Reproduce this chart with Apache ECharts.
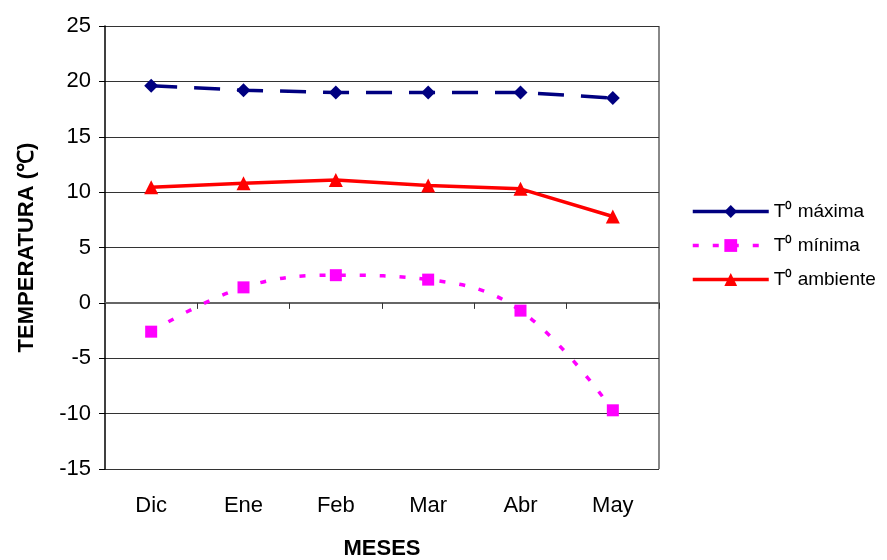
<!DOCTYPE html>
<html><head><meta charset="utf-8">
<script src="https://cdn.jsdelivr.net/npm/echarts@6/dist/echarts.min.js"></script>
<style>html,body{margin:0;padding:0;background:#fff}#c{width:887px;height:560px}</style>
</head><body><div id="c"></div>
<script>
const categories = ['Dic','Ene','Feb','Mar','Abr','May'];
const tMax = [19.6, 19.2, 19.0, 19.0, 19.0, 18.5];
const tMin = [-2.6, 1.4, 2.5, 2.1, -0.7, -9.7];
const tAmb = [10.45, 10.8, 11.1, 10.6, 10.3, 7.8];
const yTicks = {min: -15, max: 25, interval: 5};

const F = 'Liberation Sans, Arial, sans-serif';
const chart = echarts.init(document.getElementById('c'));
chart.setOption({
  animation: false,
  backgroundColor: '#fff',
  grid: {left: 105, right: 228, top: 26, bottom: 91, show: false, containLabel: false, outerBoundsMode: 'none'},
  legend: {
    orient: 'vertical', left: 686, top: 197, itemGap: 15, itemWidth: 76, itemHeight: 16,
    lineStyle: {width: 3.5},
    textStyle: {fontFamily: F, fontSize: 19, color: '#000'},
    data: [{name: 'T⁰ máxima', lineStyle: {type: 'solid'}}, {name: 'T⁰ mínima'}, {name: 'T⁰ ambiente'}]
  },
  xAxis: [{
    type: 'category', data: categories, boundaryGap: true,
    axisLine: {onZero: true, lineStyle: {color: '#666', width: 2}},
    axisTick: {show: true, length: 6, lineStyle: {color: '#333'}},
    axisLabel: {show: false}, splitLine: {show: false}
  }, {
    type: 'category', data: categories, position: 'bottom', boundaryGap: true,
    axisLine: {show: false}, axisTick: {show: false},
    axisLabel: {fontFamily: F, fontSize: 22, color: '#000', margin: 26},
    name: 'MESES', nameLocation: 'middle', nameGap: 69,
    nameTextStyle: {fontFamily: F, fontSize: 22, fontWeight: 'bold', color: '#000'}
  }],
  yAxis: {
    type: 'value', min: yTicks.min, max: yTicks.max, interval: yTicks.interval,
    axisLine: {show: true, onZero: false, lineStyle: {color: '#000', width: 1.5}},
    axisTick: {show: true, length: 6, lineStyle: {color: '#000'}},
    axisLabel: {fontFamily: F, fontSize: 22, color: '#000', margin: 14},
    splitLine: {show: true, lineStyle: {color: '#333', width: 1.2}},
    name: 'TEMPERATURA (℃)', nameLocation: 'middle', nameGap: 67, nameRotate: 90,
    nameTextStyle: {fontFamily: F, fontSize: 22, fontWeight: 'bold', color: '#000'}
  },
  series: [{
    name: 'T⁰ máxima', type: 'line', data: tMax, xAxisIndex: 0,
    symbol: 'diamond', symbolSize: 14, color: '#000080',
    lineStyle: {color: '#000080', width: 3.5, type: [26, 17]}, itemStyle: {color: '#000080'}
  }, {
    name: 'T⁰ mínima', type: 'line', data: tMin, xAxisIndex: 0, smooth: 0.4,
    symbol: 'rect', symbolSize: 12, color: '#FF00FF',
    lineStyle: {color: '#FF00FF', width: 3.5, type: [6, 14]}, itemStyle: {color: '#FF00FF'}
  }, {
    name: 'T⁰ ambiente', type: 'line', data: tAmb, xAxisIndex: 0,
    symbol: 'triangle', symbolSize: 14, color: '#FF0000',
    lineStyle: {color: '#FF0000', width: 3.5}, itemStyle: {color: '#FF0000'}
  }, {
    type: 'line', data: [], xAxisIndex: 1, silent: true
  }],
  graphic: [{
    type: 'line', shape: {x1: 659, y1: 26, x2: 659, y2: 469},
    style: {stroke: '#888', lineWidth: 2}
  }]
});
</script></body></html>
